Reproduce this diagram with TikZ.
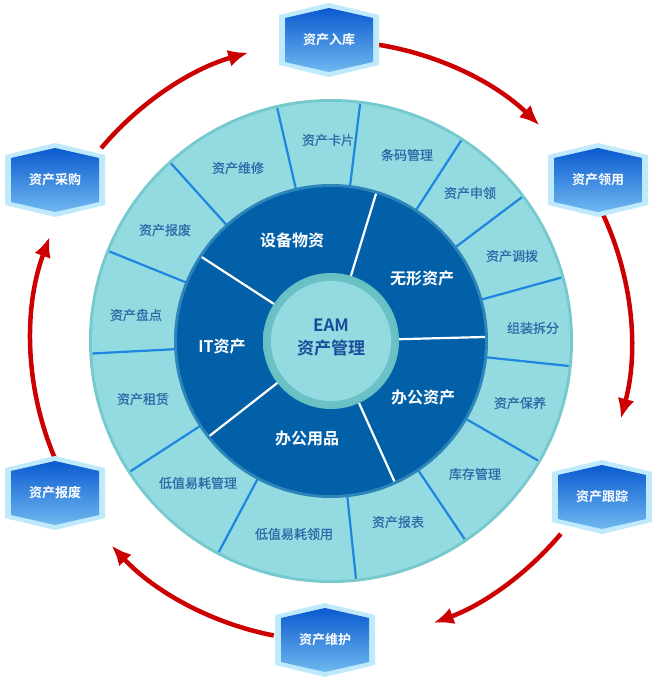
\documentclass[tikz,border=0pt]{standalone}
\usepackage{fontspec}
\setmainfont{Noto Sans CJK SC}
\newfontfamily\cjkb{Noto Sans CJK SC Bold}
\newfontfamily\cjkm[FakeBold=0.6]{Noto Sans CJK SC}
\usetikzlibrary{arrows.meta,calc}
\definecolor{ringL}{HTML}{93DBE0}
\definecolor{ringD}{HTML}{0260A8}
\definecolor{divB}{HTML}{1E86E0}
\definecolor{txtO}{HTML}{2A6AA8}
\definecolor{txtC}{HTML}{1A4C9C}
\definecolor{arr}{HTML}{CC0000}
\definecolor{hexT}{HTML}{0A5AD0}
\definecolor{hexB}{HTML}{6FB8F0}
\begin{document}
\begin{tikzpicture}[x=1pt,y=-1pt,
  otxt/.style={text=txtO,font=\cjkm\fontsize{13}{14}\selectfont},
  itxt/.style={text=white,font=\cjkb\fontsize{16}{18}\selectfont},
  htxt/.style={text=white,font=\cjkb\fontsize{13}{15}\selectfont},
  odiv/.style={divB,line width=2.2pt},
  idiv/.style={white,line width=2.2pt},
  rarr/.style={arr,line width=4.5pt,-{Latex[length=20pt,width=17pt]}}]
\useasboundingbox (0,0) rectangle (660,680);
\coordinate (O) at (331,341);
% outer ring
\fill[ringL!80!teal] (O) circle[radius=242];
\fill[ringL] (O) circle[radius=239];
\foreach \a in {83,57,37,15.4,-6,-30,-56,-84,-118,-147,-177,-202,-228,-257}
  \draw[odiv] ($(O)+(\a:155 and -155)$) -- ($(O)+(\a:239 and -239)$);
% dark ring
\fill[ringD!70!ringL] (O) circle[radius=157];
\fill[ringD] (O) circle[radius=154];
\foreach \a in {73,147,1.5,-65.7,218}
  \draw[idiv] ($(O)+(\a:68 and -68)$) -- ($(O)+(\a:154 and -154)$);
% centre
\shade[inner color=ringL,outer color=ringL!70!teal] (O) circle[radius=68];
\fill[ringL] (O) circle[radius=60];
\node[text=txtC,font=\cjkb\fontsize{17}{19}\selectfont] (eam) at (331,325) {EAM};
\node[text=txtC,font=\cjkb\fontsize{17}{19}\selectfont] (zc) at (331,348) {资产管理};
% inner labels
\node[itxt] (i1) at (292,240) {设备物资};
\node[itxt] (i2) at (422,278) {无形资产};
\node[itxt] (i3) at (423,397) {办公资产};
\node[itxt] (i4) at (307,438) {办公用品};
\node[itxt] (i5) at (222,346) {IT资产};
% outer labels
\node[otxt] (o1) at (328,140) {资产卡片};
\node[otxt] (o2) at (407,155) {条码管理};
\node[otxt] (o3) at (470,193) {资产申领};
\node[otxt] (o4) at (512,256) {资产调拨};
\node[otxt] (o5) at (533,328) {组装拆分};
\node[otxt] (o6) at (520,403) {资产保养};
\node[otxt] (o7) at (475,474) {库存管理};
\node[otxt] (o8) at (398,522) {资产报表};
\node[otxt] (o9) at (294,534) {低值易耗领用};
\node[otxt] (o10) at (198,483) {低值易耗管理};
\node[otxt] (o11) at (143,399) {资产租赁};
\node[otxt] (o12) at (136,315) {资产盘点};
\node[otxt] (o13) at (165,230) {资产报废};
\node[otxt] (o14) at (238,168) {资产维修};
% arrows
\draw[rarr] ($(O)+(81:300 and -300)$) arc[start angle=-81,end angle=-46,radius=300];
\draw[rarr] ($(O)+(25:300 and -300)$) arc[start angle=-25,end angle=15,radius=300];
\draw[rarr] ($(O)+(-40:300 and -300)$) arc[start angle=40,end angle=70,radius=300];
\draw[rarr] ($(O)+(-101:300 and -300)$) arc[start angle=101,end angle=137,radius=300];
\draw[rarr] ($(O)+(-157:300 and -300)$) arc[start angle=157,end angle=200.3,radius=300];
\draw[rarr] ($(O)+(140:300 and -300)$) arc[start angle=220,end angle=254,radius=300];
% hexagons
\foreach \n/\x/\y/\t in {h1/329/40/资产入库,h2/598/180/资产领用,h3/602/497/资产跟踪,h4/325/640/资产维护,h5/55/493/资产报废,h6/55/180/资产采购}{
  \fill[cyan!25] (\x-50,\y-25) -- (\x,\y-37) -- (\x+50,\y-25) -- (\x+50,\y+25) -- (\x,\y+37) -- (\x-50,\y+25) -- cycle;
  \shade[top color=hexT,bottom color=hexB] (\x-44,\y-22) -- (\x,\y-32) -- (\x+44,\y-22) -- (\x+44,\y+22) -- (\x,\y+32) -- (\x-44,\y+22) -- cycle;
  \node[htxt] (\n) at (\x,\y) {\t};
}
\end{tikzpicture}
\end{document}
